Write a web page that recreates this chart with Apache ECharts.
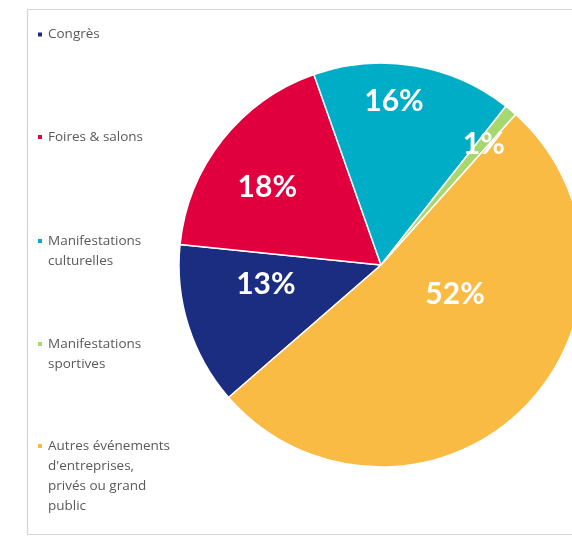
<!DOCTYPE html>
<html>
<head>
<meta charset="utf-8">
<script src="https://cdn.jsdelivr.net/npm/echarts@6/dist/echarts.min.js"></script>
<style>
html,body{margin:0;padding:0;background:#fff;}
#chart{width:572px;height:536px;}
</style>
</head>
<body>
<div id="chart"></div>
<script>
// ---- data ----
const categories = [
  'Congrès',
  'Foires & salons',
  'Manifestations\nculturelles',
  'Manifestations\nsportives',
  "Autres événements\nd'entreprises,\nprivés ou grand\npublic"
];
const values = [13, 18, 16, 1, 52];

// ---- styles ----
const colors = ['#1b2d80', '#e1003d', '#00adc6', '#a6d86f', '#f9bb43'];
const legendCenters = [34.5, 137, 241, 344, 446];
const labelShift = [[-16, -12], [-32, -13], [-4, -61], [36, -41], [1, -45]];
const LINE = 20;

const chart = echarts.init(document.getElementById('chart'), null, {renderer: 'canvas'});

const legends = categories.map((name, i) => {
  const n = name.split('\n').length;
  const h = (2 * n - 1) * LINE;
  return {
    orient: 'vertical',
    left: 36,
    top: legendCenters[i] - h / 2,
    padding: 0,
    itemWidth: 6,
    itemHeight: 6,
    icon: 'rect',
    selectedMode: false,
    data: [{name: name}],
    // blank lines above so the marker sits on the first line
    formatter: nm => '\n'.repeat(nm.split('\n').length - 1) + nm,
    textStyle: {
      fontFamily: 'Open Sans',
      fontSize: 13.5,
      color: '#595959',
      lineHeight: LINE
    }
  };
});

chart.setOption({
  animation: false,
  color: colors,
  legend: legends,
  graphic: [{
    type: 'rect',
    shape: {x: 27.5, y: 9.5, width: 600, height: 525},
    style: {fill: 'none', stroke: '#d4d4d4', lineWidth: 1.2},
    silent: true,
    z: -1
  }],
  series: [{
    type: 'pie',
    center: [381, 265],
    radius: 202,
    startAngle: 221,
    clockwise: true,
    avoidLabelOverlap: false,
    itemStyle: {borderColor: '#ffffff', borderWidth: 1.5},
    label: {
      show: true,
      position: 'inside',
      formatter: p => Math.round(p.percent) + '%',
      color: '#ffffff',
      fontFamily: 'Lato',
      fontWeight: 'bold',
      fontSize: 30
    },
    labelLine: {show: false},
    labelLayout: p => ({dx: labelShift[p.dataIndex][0], dy: labelShift[p.dataIndex][1]}),
    emphasis: {disabled: true},
    data: categories.map((c, i) => ({name: c, value: values[i]}))
  }]
});
</script>
</body>
</html>
